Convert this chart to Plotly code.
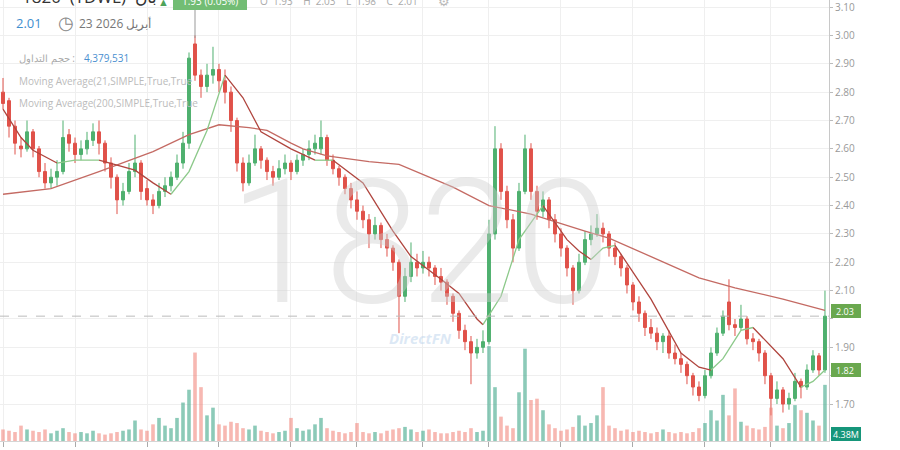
import plotly.graph_objects as go

# ---------------- data ----------------
opens = [2.80, 2.77, 2.68, 2.61, 2.60, 2.66, 2.60, 2.52, 2.48, 2.50,
         2.52, 2.65, 2.62, 2.58, 2.60, 2.63, 2.66, 2.62, 2.55, 2.50,
         2.42, 2.45, 2.52, 2.55, 2.46, 2.42, 2.40, 2.45, 2.47, 2.50,
         2.55, 2.62, 2.97, 2.86, 2.82, 2.86, 2.88, 2.84, 2.80, 2.70,
         2.55, 2.48, 2.55, 2.60, 2.56, 2.52, 2.50, 2.53, 2.55, 2.52,
         2.56, 2.58, 2.60, 2.60, 2.64, 2.56, 2.53, 2.50, 2.46, 2.42,
         2.38, 2.35, 2.30, 2.33, 2.28, 2.25, 2.20, 2.08, 2.15, 2.20,
         2.18, 2.20, 2.18, 2.15, 2.13, 2.08, 2.02, 1.96, 1.92, 1.88,
         1.90, 1.92, 2.30, 2.60, 2.45, 2.35, 2.25, 2.45, 2.60, 2.45,
         2.38, 2.42, 2.35, 2.30, 2.25, 2.18, 2.10, 2.20, 2.28, 2.30,
         2.32, 2.30, 2.25, 2.22, 2.18, 2.12, 2.06, 2.02, 1.97, 1.95,
         1.92, 1.94, 1.88, 1.86, 1.84, 1.80, 1.76, 1.73, 1.80, 1.88,
         1.95, 2.06, 1.98, 1.97, 2.00, 1.93, 1.92, 1.88, 1.80, 1.72,
         1.75, 1.70, 1.72, 1.78, 1.76, 1.82, 1.87, 1.82]
highs = [2.85, 2.78, 2.70, 2.64, 2.70, 2.67, 2.61, 2.55, 2.53, 2.56,
         2.70, 2.67, 2.64, 2.63, 2.66, 2.69, 2.70, 2.63, 2.57, 2.51,
         2.48, 2.55, 2.65, 2.56, 2.49, 2.44, 2.48, 2.50, 2.52, 2.58,
         2.66, 2.94, 3.00, 2.88, 2.90, 2.96, 2.90, 2.88, 2.82, 2.71,
         2.57, 2.58, 2.65, 2.61, 2.57, 2.54, 2.56, 2.58, 2.56, 2.58,
         2.60, 2.63, 2.65, 2.70, 2.65, 2.58, 2.54, 2.51, 2.48, 2.45,
         2.40, 2.37, 2.36, 2.34, 2.30, 2.26, 2.21, 2.18, 2.27, 2.23,
         2.24, 2.22, 2.19, 2.18, 2.14, 2.09, 2.03, 1.98, 1.94, 1.93,
         1.96, 2.35, 2.68, 2.62, 2.47, 2.37, 2.48, 2.65, 2.62, 2.47,
         2.45, 2.43, 2.37, 2.32, 2.26, 2.19, 2.23, 2.31, 2.33, 2.37,
         2.34, 2.31, 2.27, 2.23, 2.19, 2.13, 2.08, 2.03, 2.00, 1.97,
         1.95, 1.96, 1.91, 1.88, 1.85, 1.81, 1.78, 1.82, 1.90, 1.97,
         2.03, 2.14, 2.00, 2.05, 2.01, 1.95, 1.93, 1.89, 1.81, 1.78,
         1.76, 1.74, 1.81, 1.79, 1.84, 1.89, 1.88, 2.10]
lows = [2.74, 2.64, 2.58, 2.57, 2.59, 2.57, 2.50, 2.46, 2.46, 2.47,
        2.51, 2.59, 2.55, 2.56, 2.58, 2.61, 2.58, 2.52, 2.46, 2.37,
        2.40, 2.44, 2.50, 2.42, 2.40, 2.37, 2.39, 2.43, 2.45, 2.49,
        2.53, 2.60, 2.84, 2.78, 2.80, 2.83, 2.80, 2.76, 2.66, 2.52,
        2.45, 2.47, 2.54, 2.53, 2.49, 2.47, 2.49, 2.51, 2.49, 2.51,
        2.54, 2.56, 2.58, 2.58, 2.54, 2.51, 2.47, 2.44, 2.39, 2.35,
        2.32, 2.25, 2.28, 2.25, 2.22, 2.17, 1.95, 2.06, 2.13, 2.15,
        2.16, 2.15, 2.12, 2.10, 2.05, 1.99, 1.93, 1.89, 1.77, 1.86,
        1.88, 1.91, 2.28, 2.42, 2.32, 2.20, 2.24, 2.44, 2.42, 2.35,
        2.36, 2.32, 2.27, 2.22, 2.15, 2.05, 2.09, 2.19, 2.26, 2.29,
        2.27, 2.22, 2.19, 2.15, 2.09, 2.03, 1.99, 1.94, 1.93, 1.89,
        1.88, 1.86, 1.84, 1.81, 1.77, 1.73, 1.71, 1.72, 1.79, 1.87,
        1.94, 1.96, 1.94, 1.96, 1.91, 1.89, 1.85, 1.77, 1.66, 1.70,
        1.67, 1.68, 1.71, 1.72, 1.75, 1.81, 1.80, 1.81]
closes = [2.76, 2.68, 2.62, 2.60, 2.66, 2.60, 2.52, 2.48, 2.50, 2.52,
          2.64, 2.62, 2.58, 2.60, 2.63, 2.66, 2.62, 2.55, 2.50, 2.42,
          2.45, 2.52, 2.55, 2.45, 2.42, 2.40, 2.45, 2.47, 2.50, 2.55,
          2.62, 2.92, 2.86, 2.82, 2.86, 2.88, 2.84, 2.80, 2.70, 2.55,
          2.48, 2.55, 2.60, 2.56, 2.52, 2.50, 2.53, 2.55, 2.52, 2.56,
          2.58, 2.60, 2.62, 2.64, 2.56, 2.53, 2.50, 2.46, 2.42, 2.38,
          2.35, 2.30, 2.33, 2.28, 2.25, 2.20, 2.08, 2.15, 2.20, 2.18,
          2.20, 2.18, 2.15, 2.13, 2.08, 2.02, 1.96, 1.92, 1.88, 1.90,
          1.92, 2.30, 2.60, 2.45, 2.35, 2.25, 2.45, 2.60, 2.45, 2.38,
          2.42, 2.35, 2.30, 2.25, 2.18, 2.10, 2.20, 2.28, 2.30, 2.32,
          2.30, 2.25, 2.22, 2.18, 2.12, 2.06, 2.02, 1.97, 1.95, 1.92,
          1.94, 1.88, 1.86, 1.84, 1.80, 1.76, 1.73, 1.80, 1.88, 1.95,
          2.01, 1.98, 1.97, 2.00, 1.93, 1.92, 1.88, 1.80, 1.72, 1.75,
          1.70, 1.72, 1.78, 1.76, 1.82, 1.87, 1.82, 2.01]
volumes_m = [0.9, 0.8, 0.7, 1.2, 0.9, 0.8, 0.7, 0.9, 0.6, 0.8,
             1.0, 0.7, 0.6, 0.7, 0.6, 0.8, 0.6, 0.5, 0.6, 0.7,
             0.8, 0.9, 1.6, 0.9, 0.8, 1.3, 1.8, 1.2, 1.0, 1.8,
             3.0, 4.0, 6.9, 4.2, 2.0, 2.6, 1.3, 1.2, 1.5, 1.4,
             1.0, 0.9, 1.2, 0.8, 0.7, 0.6, 0.7, 0.8, 1.8, 1.0,
             0.8, 0.9, 1.3, 1.8, 1.0, 0.8, 0.7, 0.6, 0.7, 1.4,
             0.7, 0.6, 0.7, 0.6, 0.8, 0.9, 1.0, 1.1, 0.9, 0.7,
             0.8, 0.9, 0.7, 0.6, 0.6, 0.7, 0.8, 0.7, 1.0, 0.7,
             0.8, 7.4, 4.2, 1.9, 1.2, 1.0, 3.8, 7.2, 3.2, 3.3,
             2.4, 1.3, 1.0, 0.8, 0.9, 1.1, 2.0, 1.2, 1.4, 2.0,
             4.2, 1.2, 1.0, 0.8, 0.9, 0.7, 0.8, 0.7, 0.6, 0.7,
             0.9, 0.7, 0.6, 0.7, 0.6, 0.7, 1.0, 1.4, 2.4, 1.6,
             3.6, 2.0, 4.1, 1.5, 1.2, 1.0, 0.9, 1.1, 2.6, 1.2,
             1.0, 1.4, 2.8, 2.4, 2.2, 1.6, 1.2, 4.38]

ma21_idx = [0, 3, 5, 9, 12, 16, 22, 25, 28, 31, 34, 37, 40, 43, 48, 52, 55,
            60, 65, 68, 73, 76, 79, 80, 83, 86, 90, 94, 96, 98, 100, 102,
            108, 113, 116, 118, 120, 123, 125, 130, 133, 135, 137]
ma21_val = [2.74, 2.64, 2.595, 2.55, 2.56, 2.56, 2.525, 2.48, 2.44, 2.52,
            2.665, 2.86, 2.78, 2.66, 2.60, 2.56, 2.56, 2.48, 2.31, 2.22,
            2.14, 2.09, 2.00, 1.98, 2.08, 2.28, 2.40, 2.28, 2.24, 2.21,
            2.25, 2.26, 2.07, 1.88, 1.83, 1.82, 1.86, 1.96, 1.97, 1.86,
            1.76, 1.78, 1.82]

ma200_idx = [0, 8, 16, 25, 31, 36, 41, 44, 48, 50, 54, 61, 66, 75, 81, 88,
             97, 101, 108, 116, 122, 130, 137]
ma200_val = [2.44, 2.46, 2.52, 2.59, 2.65, 2.685, 2.675, 2.665, 2.62, 2.60,
             2.575, 2.555, 2.545, 2.465, 2.40, 2.37, 2.31, 2.285, 2.22,
             2.145, 2.11, 2.07, 2.03]

month_start_idx = [0, 12, 24, 36, 48, 59, 70, 81, 93, 105, 117, 128]
price_ticks = [3.10, 3.00, 2.90, 2.80, 2.70, 2.60, 2.50, 2.40, 2.30, 2.20,
               2.10, 2.00, 1.90, 1.80, 1.70]
price_labels = ["3.10", "3.00", "2.90", "2.80", "2.70", "2.60", "2.50", "2.40",
                "2.30", "2.20", "2.10", "", "1.90", "", "1.70"]
last_close = 2.01
last_volume = 4379531

# ---------------- figure ----------------
W, H = 900, 450
ML, MR, MT, MB = 0, 71, 0, 9
PW, PH = W - ML - MR, H - MT - MB


def px(x):
    return x / PW


def py(y):
    return 1 - y / PH


idx = list(range(len(closes)))
GREEN = "#4fb06f"
RED = "#e0524a"
vol_colors = ["rgba(70,170,140,0.62)" if c >= o else "rgba(240,125,115,0.55)"
              for o, c in zip(opens, closes)]

fig = go.Figure()
fig.add_trace(go.Bar(x=idx, y=volumes_m, yaxis="y2", marker_color=vol_colors,
                     marker_line_width=0, width=0.6, showlegend=False,
                     hoverinfo="skip"))

fig.add_trace(go.Candlestick(
    x=idx, open=opens, high=highs, low=lows, close=closes,
    increasing=dict(line=dict(color=GREEN, width=1), fillcolor=GREEN),
    decreasing=dict(line=dict(color=RED, width=1), fillcolor=RED),
    whiskerwidth=0, showlegend=False))

fig.add_trace(go.Scatter(x=ma200_idx, y=ma200_val, mode="lines",
                         line=dict(color="#c46a63", width=1.3),
                         showlegend=False, hoverinfo="skip"))

# MA21 coloured by direction
seg_x, seg_y, seg_up = [ma21_idx[0]], [ma21_val[0]], None
segments = []
for k in range(1, len(ma21_idx)):
    up = ma21_val[k] >= ma21_val[k - 1]
    if seg_up is None or up == seg_up:
        seg_x.append(ma21_idx[k]); seg_y.append(ma21_val[k]); seg_up = up
    else:
        segments.append((seg_x, seg_y, seg_up))
        seg_x, seg_y, seg_up = [ma21_idx[k - 1], ma21_idx[k]], [ma21_val[k - 1], ma21_val[k]], up
segments.append((seg_x, seg_y, seg_up))
for sx, sy, up in segments:
    fig.add_trace(go.Scatter(x=sx, y=sy, mode="lines",
                             line=dict(color="#8cc98a" if up else "#b0453e", width=1.3),
                             showlegend=False, hoverinfo="skip"))

ymin, ymax = 1.5697, 3.125
xmin, xmax = -0.5, 137.67

fig.update_layout(
    width=W, height=H,
    margin=dict(l=ML, r=MR, t=MT, b=MB, autoexpand=False),
    paper_bgcolor="white", plot_bgcolor="white",
    font=dict(family="Open Sans", color="#888"),
    xaxis=dict(range=[xmin, xmax], tickvals=month_start_idx, showticklabels=False,
               ticks="outside", ticklen=5, tickcolor="#aaa",
               showgrid=True, gridcolor="#efefef", zeroline=False,
               showline=True, linecolor="#d5d5d5",
               rangeslider=dict(visible=False)),
    yaxis=dict(range=[ymin, ymax], side="right", tickvals=price_ticks,
               ticktext=price_labels, tickfont=dict(size=10, color="#999"),
               ticks="outside", ticklen=3, tickcolor="#bbb",
               ticklabeloverflow="allow",
               showgrid=True, gridcolor="#efefef", zeroline=False,
               showline=True, linecolor="#c8c8c8"),
    yaxis2=dict(range=[0, 34.4], overlaying="y", visible=False),
)

shapes = []
shapes.append(dict(type="line", xref="paper", yref="y", x0=0, x1=1,
                   y0=last_close, y1=last_close,
                   line=dict(color="#bbbbbb", width=1, dash="dash")))
shapes.append(dict(type="line", xref="x", yref="paper", x0=32, x1=32,
                   y0=py(38), y1=1, line=dict(color="#999", width=1)))
shapes.append(dict(type="rect", xref="paper", yref="paper",
                   x0=px(173), x1=px(247), y0=py(10), y1=py(-8),
                   fillcolor="#72bd74", line=dict(width=0), layer="above"))
for y0, y1, col in [(304, 318, "#6aa84f"), (363, 377, "#6aa84f"), (427, 441, "#16967a")]:
    shapes.append(dict(type="rect", xref="paper", yref="paper",
                       x0=px(831), x1=px(861), y0=py(y1), y1=py(y0),
                       fillcolor=col, line=dict(width=0)))
fig.update_layout(shapes=shapes)

ann = []


def add_text(text, x, y, size=10, color="#999", anchor="left", **kw):
    ann.append(dict(text=text, xref="paper", yref="paper", x=px(x), y=py(y),
                    xanchor=anchor, yanchor="middle", showarrow=False,
                    font=dict(size=size, color=color, **kw)))


ann.append(dict(text="1820", xref="paper", yref="paper", x=px(420), y=py(243),
                xanchor="center", yanchor="middle", showarrow=False,
                font=dict(size=172, color="rgba(205,205,205,0.42)", family="Roboto", weight=300)))
add_text("<i><b>DirectFN</b></i>", 420, 338, size=15, color="rgba(185,210,235,0.5)", anchor="center")

add_text("1820  (TDWL)  بان", 20, -3, size=17, color="#333")
add_text("▲", 156, 1, size=11, color="#4fa35a")
add_text("1.93 (0.05%)", 210, 1, size=10, color="white", anchor="center")
add_text("O  1.93    H  2.03    L  1.98    C  2.01", 258, 1, size=10, color="#aaa")
add_text("⚙", 436, 1, size=13, color="#bbb")
add_text("2.01", 14, 23, size=13, color="#3f8fcf")
add_text("◷", 66, 22, size=18, color="#888", anchor="center")
add_text("23 2026 أبريل", 77, 23, size=12, color="#777")
add_text("حجم التداول :", 17, 58, size=10, color="#aaa")
add_text(f"{last_volume:,}", 82, 58, size=10, color="#4a8fd0")
add_text("Moving Average(21,SIMPLE,True,True", 17, 81, size=10, color="#bbb")
add_text("Moving Average(200,SIMPLE,True,True", 17, 103, size=10, color="#bbb")

add_text("2.03", 845, 311, size=9, color="white", anchor="center")
add_text("1.82", 845, 370, size=9, color="white", anchor="center")
add_text("4.38M", 846, 434, size=9, color="white", anchor="center")

fig.update_layout(annotations=ann)
fig.write_html("out.html", config={"displayModeBar": False},
               post_script="document.body.style.margin='0';document.body.style.overflow='hidden';")
